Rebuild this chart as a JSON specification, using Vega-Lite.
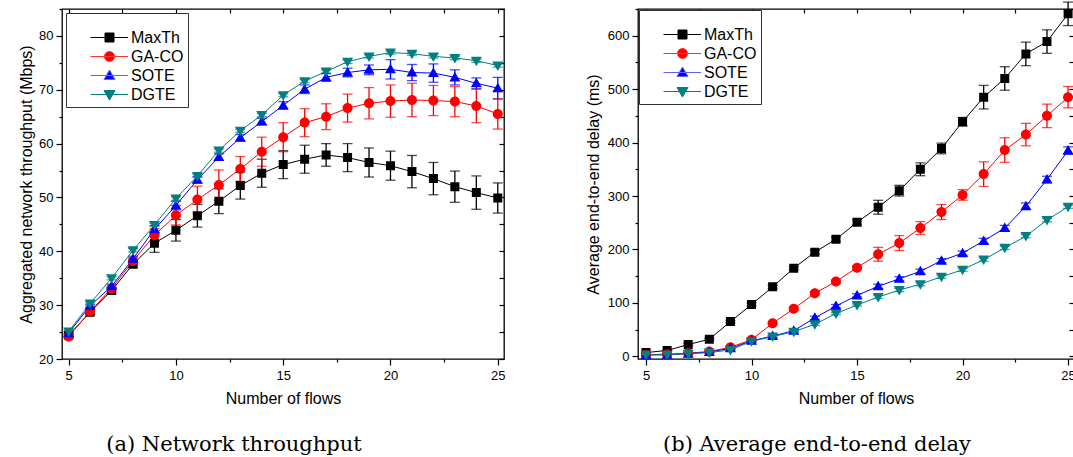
{
  "$schema": "https://vega.github.io/schema/vega-lite/v6.json",
  "padding": {"left": 17, "top": 0, "right": 0, "bottom": 0},
  "background": "white",
  "spacing": 78,
  "config": {
    "view": {"stroke": "black", "strokeWidth": 1.3},
    "font": "Liberation Sans",
    "axis": {
      "grid": false,
      "domain": false,
      "tickColor": "black",
      "tickWidth": 1.2,
      "labelColor": "black",
      "labelFont": "Liberation Sans",
      "labelFontSize": 13,
      "titleColor": "black",
      "titleFont": "Liberation Sans",
      "titleFontSize": 16,
      "titleFontWeight": "normal"
    },
    "legend": {
      "orient": "top-left",
      "offset": 4,
      "padding": 4,
      "strokeColor": "#333333",
      "strokeWidth": 1,
      "fillColor": "white",
      "titleFontSize": 10,
      "titlePadding": 0,
      "labelFont": "Liberation Sans",
      "labelFontSize": 16,
      "labelColor": "black",
      "symbolSize": 400,
      "symbolStrokeWidth": 1,
      "symbolOpacity": 1,
      "symbolOffset": 29,
      "labelOffset": 11,
      "rowPadding": -0.5
    },
    "title": {"font": "DejaVu Serif", "fontSize": 21, "fontWeight": "normal", "color": "black"}
  },
  "resolve": {
    "scale": {"color": "independent", "fill": "independent", "stroke": "independent", "shape": "independent"},
    "legend": {"color": "independent", "fill": "independent", "stroke": "independent", "shape": "independent"}
  },
  "datasets": {
    "throughput": [
      {"flows": 5, "series": "MaxTh", "value": 24.4, "err": 0.4},
      {"flows": 6, "series": "MaxTh", "value": 28.7, "err": 0.4},
      {"flows": 7, "series": "MaxTh", "value": 32.7, "err": 0.5},
      {"flows": 8, "series": "MaxTh", "value": 37.6, "err": 0.6},
      {"flows": 9, "series": "MaxTh", "value": 41.5, "err": 1.7},
      {"flows": 10, "series": "MaxTh", "value": 43.9, "err": 2.0},
      {"flows": 11, "series": "MaxTh", "value": 46.6, "err": 2.1},
      {"flows": 12, "series": "MaxTh", "value": 49.3, "err": 2.3},
      {"flows": 13, "series": "MaxTh", "value": 52.2, "err": 2.5},
      {"flows": 14, "series": "MaxTh", "value": 54.5, "err": 2.6},
      {"flows": 15, "series": "MaxTh", "value": 56.1, "err": 2.6},
      {"flows": 16, "series": "MaxTh", "value": 57.1, "err": 2.6},
      {"flows": 17, "series": "MaxTh", "value": 57.9, "err": 2.1},
      {"flows": 18, "series": "MaxTh", "value": 57.4, "err": 2.6},
      {"flows": 19, "series": "MaxTh", "value": 56.5, "err": 2.7},
      {"flows": 20, "series": "MaxTh", "value": 55.9, "err": 2.7},
      {"flows": 21, "series": "MaxTh", "value": 54.8, "err": 3.0},
      {"flows": 22, "series": "MaxTh", "value": 53.5, "err": 3.0},
      {"flows": 23, "series": "MaxTh", "value": 52.0, "err": 2.9},
      {"flows": 24, "series": "MaxTh", "value": 50.9, "err": 3.1},
      {"flows": 25, "series": "MaxTh", "value": 49.9, "err": 2.8},
      {"flows": 5, "series": "GA-CO", "value": 24.2, "err": 0.3},
      {"flows": 6, "series": "GA-CO", "value": 28.8, "err": 0.4},
      {"flows": 7, "series": "GA-CO", "value": 33.1, "err": 0.5},
      {"flows": 8, "series": "GA-CO", "value": 38.2, "err": 0.6},
      {"flows": 9, "series": "GA-CO", "value": 43.0, "err": 1.2},
      {"flows": 10, "series": "GA-CO", "value": 46.7, "err": 1.8},
      {"flows": 11, "series": "GA-CO", "value": 49.6, "err": 2.5},
      {"flows": 12, "series": "GA-CO", "value": 52.3, "err": 2.8},
      {"flows": 13, "series": "GA-CO", "value": 55.3, "err": 2.3},
      {"flows": 14, "series": "GA-CO", "value": 58.5, "err": 2.7},
      {"flows": 15, "series": "GA-CO", "value": 61.2, "err": 2.7},
      {"flows": 16, "series": "GA-CO", "value": 63.9, "err": 2.6},
      {"flows": 17, "series": "GA-CO", "value": 65.0, "err": 2.4},
      {"flows": 18, "series": "GA-CO", "value": 66.6, "err": 2.6},
      {"flows": 19, "series": "GA-CO", "value": 67.5, "err": 2.9},
      {"flows": 20, "series": "GA-CO", "value": 67.9, "err": 3.0},
      {"flows": 21, "series": "GA-CO", "value": 68.1, "err": 3.1},
      {"flows": 22, "series": "GA-CO", "value": 68.0, "err": 2.8},
      {"flows": 23, "series": "GA-CO", "value": 67.8, "err": 2.8},
      {"flows": 24, "series": "GA-CO", "value": 67.0, "err": 3.1},
      {"flows": 25, "series": "GA-CO", "value": 65.5, "err": 2.8},
      {"flows": 5, "series": "SOTE", "value": 24.8, "err": 0.3},
      {"flows": 6, "series": "SOTE", "value": 29.9, "err": 0.3},
      {"flows": 7, "series": "SOTE", "value": 33.5, "err": 0.4},
      {"flows": 8, "series": "SOTE", "value": 38.6, "err": 0.5},
      {"flows": 9, "series": "SOTE", "value": 44.1, "err": 0.7},
      {"flows": 10, "series": "SOTE", "value": 48.5, "err": 0.8},
      {"flows": 11, "series": "SOTE", "value": 53.3, "err": 0.6},
      {"flows": 12, "series": "SOTE", "value": 57.5, "err": 0.6},
      {"flows": 13, "series": "SOTE", "value": 61.1, "err": 0.6},
      {"flows": 14, "series": "SOTE", "value": 64.1, "err": 0.6},
      {"flows": 15, "series": "SOTE", "value": 67.1, "err": 0.7},
      {"flows": 16, "series": "SOTE", "value": 70.1, "err": 0.8},
      {"flows": 17, "series": "SOTE", "value": 72.3, "err": 0.7},
      {"flows": 18, "series": "SOTE", "value": 73.2, "err": 0.8},
      {"flows": 19, "series": "SOTE", "value": 73.7, "err": 0.9},
      {"flows": 20, "series": "SOTE", "value": 73.8, "err": 1.8},
      {"flows": 21, "series": "SOTE", "value": 73.2, "err": 1.5},
      {"flows": 22, "series": "SOTE", "value": 73.1, "err": 1.7},
      {"flows": 23, "series": "SOTE", "value": 72.3, "err": 1.4},
      {"flows": 24, "series": "SOTE", "value": 71.2, "err": 1.0},
      {"flows": 25, "series": "SOTE", "value": 70.3, "err": 2.0},
      {"flows": 5, "series": "DGTE", "value": 25.1, "err": 0.3},
      {"flows": 6, "series": "DGTE", "value": 30.3, "err": 0.3},
      {"flows": 7, "series": "DGTE", "value": 35.0, "err": 0.3},
      {"flows": 8, "series": "DGTE", "value": 40.2, "err": 0.3},
      {"flows": 9, "series": "DGTE", "value": 44.9, "err": 0.3},
      {"flows": 10, "series": "DGTE", "value": 49.8, "err": 0.3},
      {"flows": 11, "series": "DGTE", "value": 54.0, "err": 0.3},
      {"flows": 12, "series": "DGTE", "value": 58.7, "err": 0.3},
      {"flows": 13, "series": "DGTE", "value": 62.4, "err": 0.3},
      {"flows": 14, "series": "DGTE", "value": 65.3, "err": 0.3},
      {"flows": 15, "series": "DGTE", "value": 69.0, "err": 0.3},
      {"flows": 16, "series": "DGTE", "value": 71.6, "err": 0.3},
      {"flows": 17, "series": "DGTE", "value": 73.4, "err": 0.3},
      {"flows": 18, "series": "DGTE", "value": 75.2, "err": 0.3},
      {"flows": 19, "series": "DGTE", "value": 76.2, "err": 0.3},
      {"flows": 20, "series": "DGTE", "value": 76.9, "err": 0.3},
      {"flows": 21, "series": "DGTE", "value": 76.7, "err": 0.3},
      {"flows": 22, "series": "DGTE", "value": 76.2, "err": 0.3},
      {"flows": 23, "series": "DGTE", "value": 75.9, "err": 0.3},
      {"flows": 24, "series": "DGTE", "value": 75.4, "err": 0.3},
      {"flows": 25, "series": "DGTE", "value": 74.5, "err": 0.3}
    ],
    "delay": [
      {"flows": 5, "series": "MaxTh", "value": 7, "err": 1},
      {"flows": 6, "series": "MaxTh", "value": 11, "err": 1},
      {"flows": 7, "series": "MaxTh", "value": 22, "err": 2},
      {"flows": 8, "series": "MaxTh", "value": 32, "err": 2},
      {"flows": 9, "series": "MaxTh", "value": 65, "err": 2},
      {"flows": 10, "series": "MaxTh", "value": 97, "err": 3},
      {"flows": 11, "series": "MaxTh", "value": 130, "err": 3},
      {"flows": 12, "series": "MaxTh", "value": 165, "err": 3},
      {"flows": 13, "series": "MaxTh", "value": 195, "err": 4},
      {"flows": 14, "series": "MaxTh", "value": 219, "err": 4},
      {"flows": 15, "series": "MaxTh", "value": 251, "err": 5},
      {"flows": 16, "series": "MaxTh", "value": 279, "err": 13},
      {"flows": 17, "series": "MaxTh", "value": 310, "err": 10},
      {"flows": 18, "series": "MaxTh", "value": 350, "err": 12},
      {"flows": 19, "series": "MaxTh", "value": 389, "err": 10},
      {"flows": 20, "series": "MaxTh", "value": 439, "err": 8},
      {"flows": 21, "series": "MaxTh", "value": 485, "err": 22},
      {"flows": 22, "series": "MaxTh", "value": 520, "err": 22},
      {"flows": 23, "series": "MaxTh", "value": 566, "err": 22},
      {"flows": 24, "series": "MaxTh", "value": 589, "err": 22},
      {"flows": 25, "series": "MaxTh", "value": 641, "err": 22},
      {"flows": 5, "series": "GA-CO", "value": 3, "err": 1},
      {"flows": 6, "series": "GA-CO", "value": 4, "err": 1},
      {"flows": 7, "series": "GA-CO", "value": 6, "err": 1},
      {"flows": 8, "series": "GA-CO", "value": 9, "err": 1},
      {"flows": 9, "series": "GA-CO", "value": 17, "err": 2},
      {"flows": 10, "series": "GA-CO", "value": 31, "err": 2},
      {"flows": 11, "series": "GA-CO", "value": 62, "err": 2},
      {"flows": 12, "series": "GA-CO", "value": 89, "err": 3},
      {"flows": 13, "series": "GA-CO", "value": 118, "err": 3},
      {"flows": 14, "series": "GA-CO", "value": 140, "err": 3},
      {"flows": 15, "series": "GA-CO", "value": 166, "err": 3},
      {"flows": 16, "series": "GA-CO", "value": 191, "err": 13},
      {"flows": 17, "series": "GA-CO", "value": 212, "err": 14},
      {"flows": 18, "series": "GA-CO", "value": 240, "err": 12},
      {"flows": 19, "series": "GA-CO", "value": 270, "err": 14},
      {"flows": 20, "series": "GA-CO", "value": 302, "err": 10},
      {"flows": 21, "series": "GA-CO", "value": 341, "err": 23},
      {"flows": 22, "series": "GA-CO", "value": 386, "err": 23},
      {"flows": 23, "series": "GA-CO", "value": 415, "err": 21},
      {"flows": 24, "series": "GA-CO", "value": 450, "err": 22},
      {"flows": 25, "series": "GA-CO", "value": 485, "err": 20},
      {"flows": 5, "series": "SOTE", "value": 2.5, "err": 1},
      {"flows": 6, "series": "SOTE", "value": 3, "err": 1},
      {"flows": 7, "series": "SOTE", "value": 5, "err": 1},
      {"flows": 8, "series": "SOTE", "value": 8, "err": 1},
      {"flows": 9, "series": "SOTE", "value": 15, "err": 2},
      {"flows": 10, "series": "SOTE", "value": 29, "err": 2},
      {"flows": 11, "series": "SOTE", "value": 38, "err": 2},
      {"flows": 12, "series": "SOTE", "value": 48, "err": 2},
      {"flows": 13, "series": "SOTE", "value": 72, "err": 3},
      {"flows": 14, "series": "SOTE", "value": 94, "err": 3},
      {"flows": 15, "series": "SOTE", "value": 114, "err": 3},
      {"flows": 16, "series": "SOTE", "value": 131, "err": 4},
      {"flows": 17, "series": "SOTE", "value": 145, "err": 4},
      {"flows": 18, "series": "SOTE", "value": 159, "err": 4},
      {"flows": 19, "series": "SOTE", "value": 179, "err": 4},
      {"flows": 20, "series": "SOTE", "value": 193, "err": 4},
      {"flows": 21, "series": "SOTE", "value": 216, "err": 5},
      {"flows": 22, "series": "SOTE", "value": 240, "err": 5},
      {"flows": 23, "series": "SOTE", "value": 281, "err": 6},
      {"flows": 24, "series": "SOTE", "value": 331, "err": 6},
      {"flows": 25, "series": "SOTE", "value": 385, "err": 7},
      {"flows": 5, "series": "DGTE", "value": 3, "err": 1},
      {"flows": 6, "series": "DGTE", "value": 3, "err": 1},
      {"flows": 7, "series": "DGTE", "value": 5, "err": 1},
      {"flows": 8, "series": "DGTE", "value": 7, "err": 1},
      {"flows": 9, "series": "DGTE", "value": 12, "err": 1},
      {"flows": 10, "series": "DGTE", "value": 28, "err": 2},
      {"flows": 11, "series": "DGTE", "value": 37, "err": 2},
      {"flows": 12, "series": "DGTE", "value": 46, "err": 2},
      {"flows": 13, "series": "DGTE", "value": 60, "err": 2},
      {"flows": 14, "series": "DGTE", "value": 80, "err": 2},
      {"flows": 15, "series": "DGTE", "value": 96, "err": 2},
      {"flows": 16, "series": "DGTE", "value": 111, "err": 3},
      {"flows": 17, "series": "DGTE", "value": 124, "err": 3},
      {"flows": 18, "series": "DGTE", "value": 135, "err": 3},
      {"flows": 19, "series": "DGTE", "value": 149, "err": 3},
      {"flows": 20, "series": "DGTE", "value": 162, "err": 3},
      {"flows": 21, "series": "DGTE", "value": 181, "err": 3},
      {"flows": 22, "series": "DGTE", "value": 203, "err": 3},
      {"flows": 23, "series": "DGTE", "value": 225, "err": 3},
      {"flows": 24, "series": "DGTE", "value": 255, "err": 3},
      {"flows": 25, "series": "DGTE", "value": 280, "err": 3}
    ]
  },
  "hconcat": [
    {
      "width": 442,
      "height": 350,
      "data": {"name": "throughput"},
      "title": {"text": "(a) Network throughput", "orient": "bottom", "anchor": "middle", "frame": "group", "dx": -49, "offset": 28},
      "layer": [
        {
          "mark": {"type": "line", "strokeWidth": 1},
          "encoding": {
            "x": {"field": "flows", "type": "quantitative", "scale": {"domain": [4.69, 25.29], "nice": false, "zero": false},
              "axis": {"orient": "bottom", "title": "Number of flows", "titlePadding": 8, "values": [5, 7.5, 10, 12.5, 15, 17.5, 20, 22.5, 25],
                "labelExpr": "datum.value % 5 === 0 ? datum.label : ''", "labelPadding": 4,
                "tickSize": {"condition": {"test": "datum.value % 5 === 0", "value": 6}, "value": 3}}},
            "y": {"field": "value", "type": "quantitative", "scale": {"domain": [20, 85], "nice": false, "zero": false},
              "axis": {"orient": "left", "title": "Aggregated network throughput (Mbps)", "titlePadding": 4, "values": [20, 25, 30, 35, 40, 45, 50, 55, 60, 65, 70, 75, 80, 85],
                "labelExpr": "datum.value % 10 === 0 ? datum.label : ''", "labelPadding": 3,
                "tickSize": {"condition": {"test": "datum.value % 10 === 0", "value": 6}, "value": 3}}},
            "color": {"field": "series", "type": "nominal", "scale": {"range": ["#008080", "#ff0000", "#000000", "#0000ff"]}, "legend": null}
          }
        },
        {
          "mark": {"type": "errorbar", "ticks": {"size": 10}, "thickness": 1.3},
          "encoding": {
            "x": {"field": "flows", "type": "quantitative", "axis": null},
            "y": {"field": "value", "type": "quantitative", "axis": null},
            "yError": {"field": "err"},
            "color": {"field": "series", "type": "nominal", "legend": null}
          }
        },
        {
          "mark": {"type": "point", "filled": true, "size": 400, "opacity": 1, "clip": true},
          "encoding": {
            "x": {"field": "flows", "type": "quantitative",
              "axis": {"orient": "top", "title": null, "labels": false, "values": [5, 7.5, 10, 12.5, 15, 17.5, 20, 22.5, 25], "tickSize": -4}},
            "y": {"field": "value", "type": "quantitative",
              "axis": {"orient": "right", "title": null, "labels": false, "values": [20, 25, 30, 35, 40, 45, 50, 55, 60, 65, 70, 75, 80, 85], "tickSize": -5}},
            "fill": {"field": "series", "type": "nominal", "scale": {"domain": ["MaxTh", "GA-CO", "SOTE", "DGTE"], "range": ["#000000", "#ff0000", "#0000ff", "#008080"]}, "legend": {"title": " "}},
            "stroke": {"field": "series", "type": "nominal", "scale": {"domain": ["MaxTh", "GA-CO", "SOTE", "DGTE"], "range": ["#000000", "#ff3333", "#6060ff", "#008080"]}, "legend": {"title": " "}},
            "shape": {"field": "series", "type": "nominal", "scale": {"domain": ["MaxTh", "GA-CO", "SOTE", "DGTE"],
              "range": ["M-1.9,0H1.85M-0.45,-0.45H0.45V0.45H-0.45Z", "M-1.9,0H1.85M-0.5,0A0.5,0.5 0 1,0 0.5,0A0.5,0.5 0 1,0 -0.5,0Z", "M-1.9,0H1.85M0,-0.55L0.55,0.4L-0.55,0.4Z", "M-1.9,0H1.85M0,0.55L0.55,-0.4L-0.55,-0.4Z"]}, "legend": {"title": " "}},
            "strokeWidth": {"value": 0}
          }
        }
      ],
      "resolve": {"axis": {"x": "independent", "y": "independent"}}
    },
    {
      "width": 436,
      "height": 350,
      "data": {"name": "delay"},
      "title": {"text": "(b) Average end-to-end delay", "orient": "bottom", "anchor": "middle", "frame": "group", "dx": -39, "offset": 28},
      "layer": [
        {
          "mark": {"type": "line", "strokeWidth": 1},
          "encoding": {
            "x": {"field": "flows", "type": "quantitative", "scale": {"domain": [4.62, 25.28], "nice": false, "zero": false},
              "axis": {"orient": "bottom", "title": "Number of flows", "titlePadding": 8, "values": [5, 7.5, 10, 12.5, 15, 17.5, 20, 22.5, 25],
                "labelExpr": "datum.value % 5 === 0 ? datum.label : ''", "labelPadding": 4,
                "tickSize": {"condition": {"test": "datum.value % 5 === 0", "value": 6}, "value": 3}}},
            "y": {"field": "value", "type": "quantitative", "scale": {"domain": [-5, 650], "nice": false, "zero": false},
              "axis": {"orient": "left", "title": "Average end-to-end delay (ms)", "titlePadding": 6, "values": [0, 50, 100, 150, 200, 250, 300, 350, 400, 450, 500, 550, 600, 650],
                "labelExpr": "datum.value % 100 === 0 ? datum.label : ''", "labelPadding": 3,
                "tickSize": {"condition": {"test": "datum.value % 100 === 0", "value": 6}, "value": 3}}},
            "color": {"field": "series", "type": "nominal", "scale": {"range": ["#008080", "#ff0000", "#000000", "#0000ff"]}, "legend": null}
          }
        },
        {
          "mark": {"type": "errorbar", "ticks": {"size": 10}, "thickness": 1.3},
          "encoding": {
            "x": {"field": "flows", "type": "quantitative", "axis": null},
            "y": {"field": "value", "type": "quantitative", "axis": null},
            "yError": {"field": "err"},
            "color": {"field": "series", "type": "nominal", "legend": null}
          }
        },
        {
          "mark": {"type": "point", "filled": true, "size": 400, "opacity": 1, "clip": true},
          "encoding": {
            "x": {"field": "flows", "type": "quantitative",
              "axis": {"orient": "top", "title": null, "labels": false, "values": [5, 7.5, 10, 12.5, 15, 17.5, 20, 22.5, 25], "tickSize": -4}},
            "y": {"field": "value", "type": "quantitative",
              "axis": {"orient": "right", "title": null, "labels": false, "values": [0, 50, 100, 150, 200, 250, 300, 350, 400, 450, 500, 550, 600, 650], "tickSize": -5}},
            "fill": {"field": "series", "type": "nominal", "scale": {"domain": ["MaxTh", "GA-CO", "SOTE", "DGTE"], "range": ["#000000", "#ff0000", "#0000ff", "#008080"]}, "legend": {"title": " ", "offset": 1}},
            "stroke": {"field": "series", "type": "nominal", "scale": {"domain": ["MaxTh", "GA-CO", "SOTE", "DGTE"], "range": ["#000000", "#ff3333", "#6060ff", "#008080"]}, "legend": {"title": " ", "offset": 1}},
            "shape": {"field": "series", "type": "nominal", "scale": {"domain": ["MaxTh", "GA-CO", "SOTE", "DGTE"],
              "range": ["M-1.9,0H1.85M-0.45,-0.45H0.45V0.45H-0.45Z", "M-1.9,0H1.85M-0.5,0A0.5,0.5 0 1,0 0.5,0A0.5,0.5 0 1,0 -0.5,0Z", "M-1.9,0H1.85M0,-0.55L0.55,0.4L-0.55,0.4Z", "M-1.9,0H1.85M0,0.55L0.55,-0.4L-0.55,-0.4Z"]}, "legend": {"title": " ", "offset": 1}},
            "strokeWidth": {"value": 0}
          }
        }
      ],
      "resolve": {"axis": {"x": "independent", "y": "independent"}}
    }
  ]
}
